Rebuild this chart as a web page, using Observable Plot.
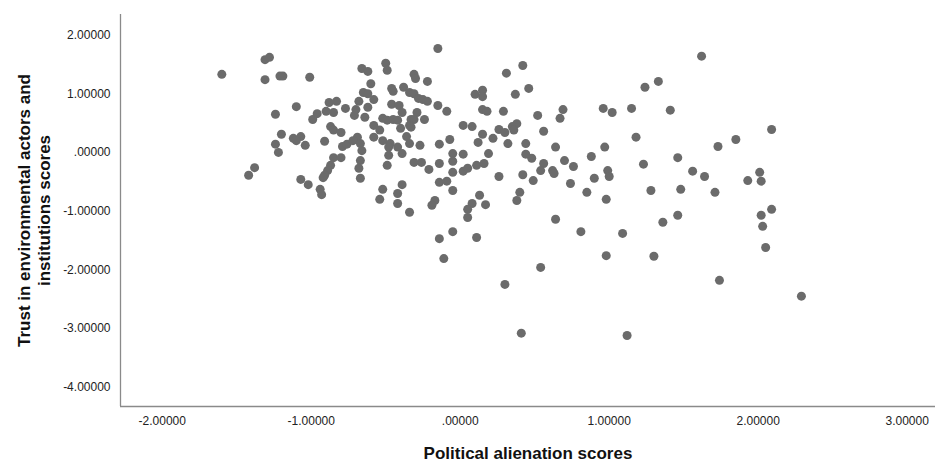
<!DOCTYPE html>
<html>
<head>
<meta charset="utf-8">
<script src="https://cdn.jsdelivr.net/npm/d3@7"></script>
<script src="https://cdn.jsdelivr.net/npm/@observablehq/plot@0.6"></script>
<style>
  html, body { margin: 0; padding: 0; background: #ffffff; }
</style>
</head>
<body>
<div id="chart"></div>
<script>
// Political alienation scores (x)
const alienation = [
  -1.60, -1.31, -1.28, -1.31, -1.21, -1.19, -1.01, -1.24, -1.10, -0.99,
  -0.96, -0.88, -0.83, -0.90, -0.85, -0.77, -0.87, -0.85, -0.80, -1.20,
  -1.12, -1.07, -1.10, -1.24, -1.04, -0.91, -1.22, -0.79, -0.76, -0.85,
  -0.80, -0.87, -0.89, -0.91, -0.92, -1.38, -1.42, -1.07, -1.02, -0.94,
  -0.93, -0.15, -0.66, -0.62, -0.50, -0.49, -0.31, -0.30, -0.22, -0.60,
  -0.46, -0.45, -0.38, -0.65, -0.62, -0.34, -0.31, -0.28, -0.25, -0.22,
  -0.68, -0.58, -0.70, -0.71, -0.62, -0.46, -0.41, -0.39, -0.29, -0.15,
  -0.09, -0.64, 0.10, 0.15, 0.15, -0.52, -0.49, -0.45, -0.42, -0.33,
  -0.31, -0.24, -0.58, -0.54, -0.40, -0.34, -0.33, 0.02, 0.08, 0.15,
  -0.69, -0.72, -0.67, -0.58, -0.52, -0.47, -0.36, -0.34, -0.27, -0.14,
  -0.07, 0.12, -0.66, -0.67, -0.68, -0.67, -0.48, -0.48, -0.42, -0.39,
  -0.49, -0.31, -0.26, -0.21, -0.14, -0.05, -0.05, -0.05, 0.02, 0.02,
  0.05, 0.11, 0.16, -0.14, -0.09, -0.05, -0.52, -0.54, -0.39, -0.42,
  -0.42, -0.34, -0.17, -0.19, 0.13, 0.08, 0.05, 0.05, -0.05, -0.14,
  0.11, -0.11, 0.42, 0.31, 0.46, 0.15, 0.37, 0.18, 0.29, 0.52,
  0.69, 0.67, 0.96, 1.02, 0.38, 0.35, 0.36, 0.26, 0.30, 0.56,
  0.22, 0.32, 0.44, 0.64, 0.97, 0.19, 0.44, 0.48, 0.56, 0.54,
  0.62, 0.63, 0.70, 0.76, 0.26, 0.42, 0.49, 0.88, 0.99, 1.00,
  0.90, 0.74, 0.85, 0.98, 0.17, 0.40, 0.38, 0.64, 0.81, 0.98,
  1.62, 1.24, 1.33, 1.15, 1.41, 1.18, 1.73, 1.85, 2.09, 1.46,
  1.23, 1.56, 1.64, 1.28, 1.48, 1.71, 1.93, 2.01, 2.02, 2.09,
  2.02, 2.03, 2.05, 1.46, 1.36, 1.09, 1.30, 2.29, 0.54, 0.30,
  0.41, 1.12, 1.74
];

// Trust in environmental actors and institutions scores (y)
const trust = [
  1.33, 1.58, 1.62, 1.24, 1.30, 1.30, 1.28, 0.65, 0.78, 0.56,
  0.66, 0.85, 0.87, 0.70, 0.68, 0.75, 0.44, 0.38, 0.34, 0.31,
  0.24, 0.27, 0.20, 0.14, 0.12, 0.19, 0.00, 0.10, 0.14, -0.09,
  -0.09, -0.22, -0.31, -0.39, -0.43, -0.26, -0.39, -0.46, -0.55, -0.63,
  -0.72, 1.77, 1.43, 1.38, 1.52, 1.40, 1.33, 1.26, 1.21, 1.17,
  1.09, 1.04, 1.11, 1.02, 1.00, 1.02, 1.00, 0.92, 0.90, 0.87,
  0.87, 0.90, 0.73, 0.63, 0.77, 0.82, 0.80, 0.68, 0.68, 0.80,
  0.70, 0.60, 0.99, 1.06, 0.73, 0.58, 0.55, 0.56, 0.55, 0.56,
  0.56, 0.56, 0.46, 0.38, 0.41, 0.46, 0.43, 0.46, 0.44, 0.31,
  0.26, 0.20, 0.15, 0.26, 0.20, 0.15, 0.27, 0.15, 0.12, 0.14,
  0.22, 0.17, 0.03, -0.14, -0.27, -0.44, 0.09, -0.05, 0.09, -0.02,
  -0.22, -0.17, -0.17, -0.29, -0.19, -0.02, -0.15, -0.34, -0.03, -0.32,
  -0.27, -0.22, -0.19, -0.51, -0.49, -0.65, -0.63, -0.80, -0.55, -0.70,
  -0.87, -1.02, -0.82, -0.90, -0.73, -0.87, -0.97, -1.11, -1.35, -1.47,
  -1.45, -1.81, 1.48, 1.35, 1.09, 0.95, 0.99, 0.70, 0.70, 0.63,
  0.73, 0.58, 0.75, 0.68, 0.49, 0.44, 0.38, 0.39, 0.34, 0.36,
  0.24, 0.15, 0.15, 0.09, 0.09, -0.02, -0.03, -0.10, -0.19, -0.31,
  -0.31, -0.36, -0.14, -0.24, -0.41, -0.38, -0.48, -0.07, -0.31, -0.41,
  -0.44, -0.53, -0.68, -0.80, -0.89, -0.68, -0.82, -1.14, -1.35, -1.76,
  1.64, 1.11, 1.21, 0.75, 0.72, 0.26, 0.10, 0.22, 0.39, -0.09,
  -0.20, -0.32, -0.41, -0.65, -0.63, -0.68, -0.48, -0.34, -0.49, -0.97,
  -1.07, -1.26, -1.62, -1.07, -1.19, -1.38, -1.77, -2.45, -1.96, -2.25,
  -3.08, -3.12, -2.18
];

const xTicks = [-2, -1, 0, 1, 2, 3];
const yTicks = [-4, -3, -2, -1, 0, 1, 2];
const xLabel = "Political alienation scores";
const yLabel = "Trust in environmental actors and\ninstitutions scores";
const xDomain = [-2.28, 3.19];
const yDomain = [-4.33, 2.35];

const fmt = d => d === 0 ? ".00000" : d.toFixed(5);
const data = alienation.map((x, i) => ({x, y: trust[i]}));

const chart = Plot.plot({
  width: 937,
  height: 464,
  marginLeft: 120,
  marginRight: 2,
  marginTop: 14,
  marginBottom: 58,
  style: {
    fontFamily: "'Liberation Sans', Arial, sans-serif",
    fontSize: "12px",
    color: "#222",
    background: "#ffffff"
  },
  x: {domain: xDomain, ticks: xTicks, tickFormat: fmt, tickSize: 0, tickPadding: 10, label: null},
  y: {domain: yDomain, ticks: yTicks, tickFormat: fmt, tickSize: 0, tickPadding: 10, label: null},
  marks: [
    Plot.ruleX([xDomain[0]], {stroke: "#8a8a8a", strokeWidth: 1.3}),
    Plot.ruleY([yDomain[0]], {stroke: "#8a8a8a", strokeWidth: 1.3}),
    Plot.dot(data, {x: "x", y: "y", r: 4.5, fill: "#6b6b6b", stroke: null}),
    Plot.text([xLabel], {frameAnchor: "bottom", dy: 47, textAnchor: "middle", lineAnchor: "middle",
      fontSize: 17, fontWeight: "bold", fill: "#111"}),
    Plot.text([yLabel], {frameAnchor: "left", dx: -87, rotate: -90, textAnchor: "middle", lineAnchor: "middle",
      lineHeight: 1.15, fontSize: 17, fontWeight: "bold", fill: "#111"})
  ]
});

document.getElementById("chart").appendChild(chart);
</script>
</body>
</html>
